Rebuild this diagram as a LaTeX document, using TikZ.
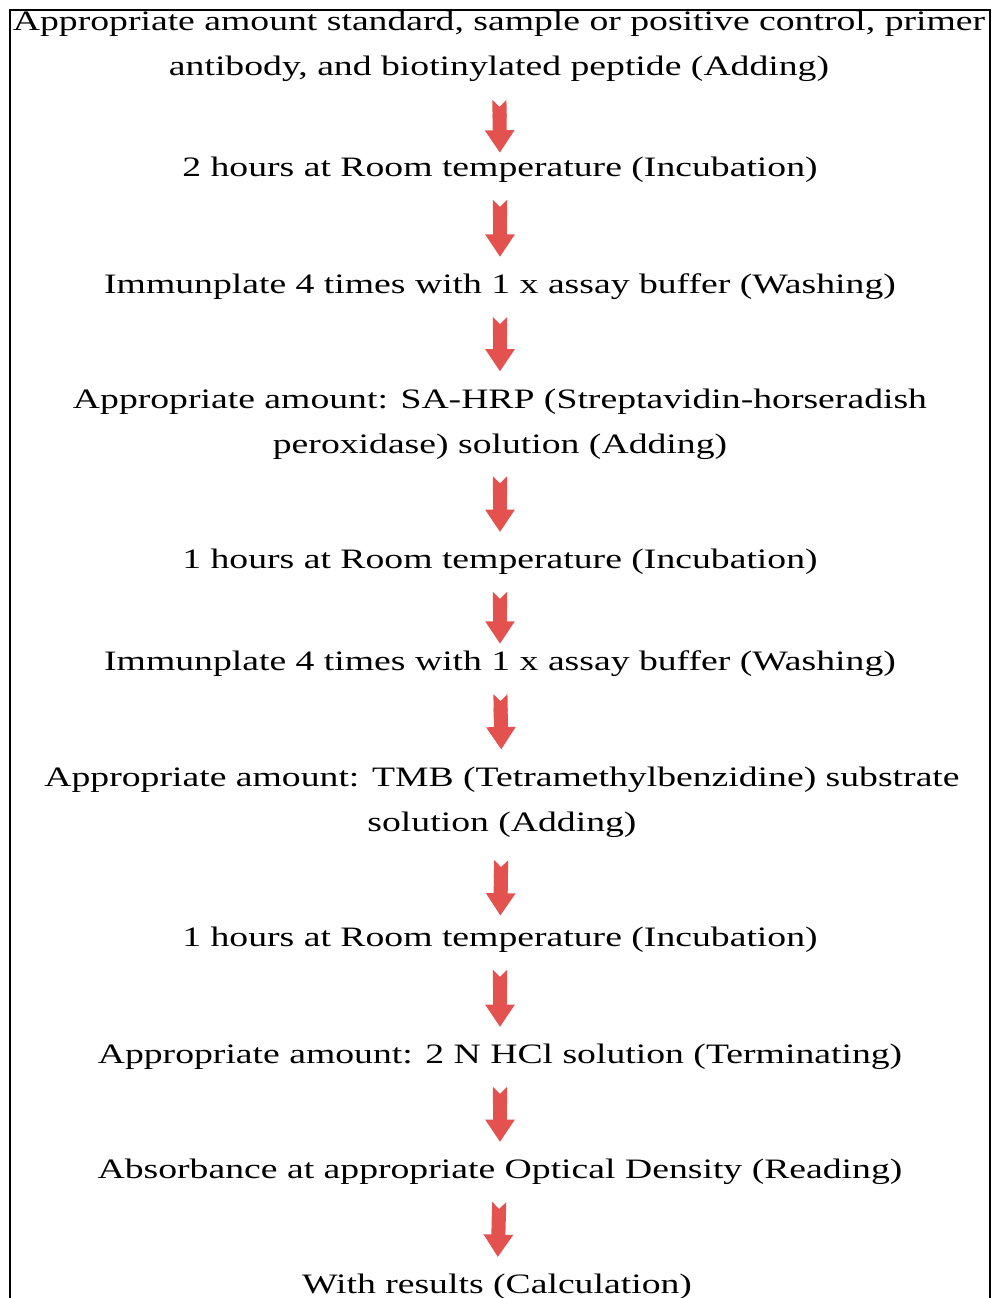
\documentclass[tikz,border=0pt]{standalone}
\usepackage{fontspec}
\setmainfont{Liberation Serif}[FakeStretch=1.34]
\usetikzlibrary{arrows.meta}

\definecolor{arrowred}{RGB}{228,82,80}

\begin{document}
\begin{tikzpicture}[
    x=0.025cm, y=-0.025cm,
    stepbox/.style={inner sep=0pt, align=center, font=\fontsize{20}{32}\selectfont},
    flow/.style 2 args={arrowred, line width=10pt, shorten <=#1, shorten >=#2,
        {Triangle Cap[reversed]}-{Triangle[width=20pt, length=16pt]}}
]
\useasboundingbox (0,0) rectangle (992,1298);

% Frame (open at the bottom)
\draw[line width=1.2pt] (10,1298) -- (10,10) -- (990,10) -- (990,1298);

% Steps
\node[stepbox] (s1) at (499,46) {Appropriate amount standard, sample or positive control, primer\\antibody, and biotinylated peptide (Adding)};
\node[stepbox] (s2) at (500,170) {2 hours at Room temperature (Incubation)};
\node[stepbox] (s3) at (500,287) {Immunplate 4 times with 1 x assay buffer (Washing)};
\node[stepbox] (s4) at (500,424) {Appropriate amount: SA-HRP (Streptavidin-horseradish\\peroxidase) solution (Adding)};
\node[stepbox] (s5) at (500,562) {1 hours at Room temperature (Incubation)};
\node[stepbox] (s6) at (500,664) {Immunplate 4 times with 1 x assay buffer (Washing)};
\node[stepbox] (s7) at (502,802) {Appropriate amount: TMB (Tetramethylbenzidine) substrate\\solution (Adding)};
\node[stepbox] (s8) at (500,940) {1 hours at Room temperature (Incubation)};
\node[stepbox] (s9) at (500,1057) {Appropriate amount: 2 N HCl solution (Terminating)};
\node[stepbox] (s10) at (500,1172) {Absorbance at appropriate Optical Density (Reading)};
\node[stepbox] (s11) at (497,1287) {With results (Calculation)};

% Arrows
\foreach \a/\b/\s/\e in {s1/s2/13pt/3pt, s2/s3/12pt/12pt, s3/s4/12pt/12pt, s4/s5/12pt/12pt,
    s5/s6/12pt/5pt, s6/s7/12pt/12pt, s7/s8/16pt/8pt, s8/s9/12pt/12pt, s9/s10/12pt/12pt,
    s10/s11/12pt/12pt} {
    \draw[flow={\s}{\e}] (\a) -- (\b);
}

\end{tikzpicture}
\end{document}
